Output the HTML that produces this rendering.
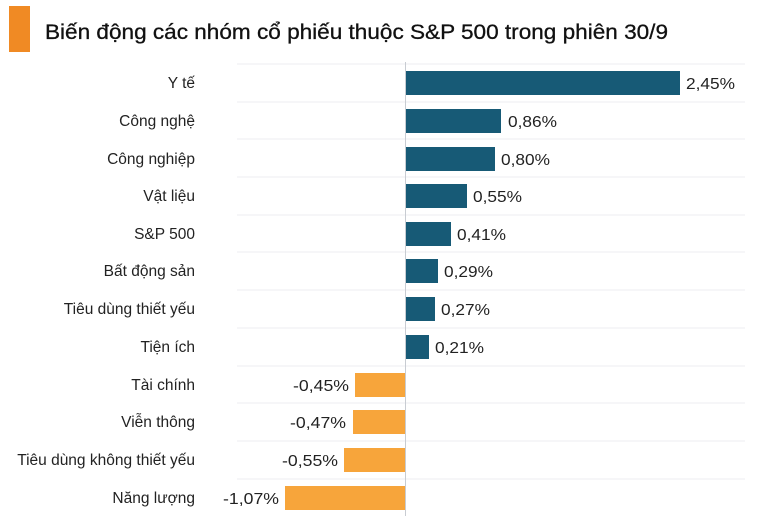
<!DOCTYPE html>
<html><head><meta charset="utf-8"><style>
body{margin:0;background:#fff;}
svg{display:block;font-family:"Liberation Sans","DejaVu Sans",sans-serif;}
</style></head><body>
<svg width="760" height="516" viewBox="0 0 760 516">
<rect x="9" y="6" width="21" height="46" fill="#f08a24"/>
<text x="45" y="39" font-size="21" fill="#111" stroke="#111" stroke-width="0.3" textLength="623" lengthAdjust="spacingAndGlyphs">Biến động các nhóm cổ phiếu thuộc S&amp;P 500 trong phiên 30/9</text>
<g stroke="#eceef0" stroke-width="1">
<line x1="237" x2="745" y1="64" y2="64"/><line x1="237" x2="745" y1="102" y2="102"/><line x1="237" x2="745" y1="139" y2="139"/><line x1="237" x2="745" y1="177" y2="177"/><line x1="237" x2="745" y1="215" y2="215"/><line x1="237" x2="745" y1="252" y2="252"/><line x1="237" x2="745" y1="290" y2="290"/><line x1="237" x2="745" y1="328" y2="328"/><line x1="237" x2="745" y1="366" y2="366"/><line x1="237" x2="745" y1="403" y2="403"/><line x1="237" x2="745" y1="441" y2="441"/><line x1="237" x2="745" y1="479" y2="479"/>
</g>
<g fill="#175a76">
<rect x="405" y="71" width="275" height="24"/>
<rect x="405" y="109" width="96" height="24"/>
<rect x="405" y="147" width="90" height="24"/>
<rect x="405" y="184" width="62" height="24"/>
<rect x="405" y="222" width="46" height="24"/>
<rect x="405" y="259" width="33" height="24"/>
<rect x="405" y="297" width="30" height="24"/>
<rect x="405" y="335" width="24" height="24"/>
</g>
<g fill="#f7a53b">
<rect x="355" y="373" width="50" height="24"/>
<rect x="353" y="410" width="52" height="24"/>
<rect x="344" y="448" width="61" height="24"/>
<rect x="285" y="486" width="120" height="24"/>
</g>
<line x1="405.5" x2="405.5" y1="62" y2="516" stroke="#c8ccd2" stroke-width="1"/>
<g font-size="15.5" fill="#222" text-anchor="end">
<text x="195" y="88">Y tế</text>
<text x="195" y="126">Công nghệ</text>
<text x="195" y="164">Công nghiệp</text>
<text x="195" y="201">Vật liệu</text>
<text x="195" y="239">S&amp;P 500</text>
<text x="195" y="276">Bất động sản</text>
<text x="195" y="314">Tiêu dùng thiết yếu</text>
<text x="195" y="352">Tiện ích</text>
<text x="195" y="390">Tài chính</text>
<text x="195" y="427">Viễn thông</text>
<text x="195" y="465">Tiêu dùng không thiết yếu</text>
<text x="195" y="503">Năng lượng</text>
</g>
<g font-size="16" fill="#222" lengthAdjust="spacingAndGlyphs">
<text x="686" y="89" textLength="49" lengthAdjust="spacingAndGlyphs">2,45%</text>
<text x="508" y="127" textLength="49" lengthAdjust="spacingAndGlyphs">0,86%</text>
<text x="501" y="165" textLength="49" lengthAdjust="spacingAndGlyphs">0,80%</text>
<text x="473" y="202" textLength="49" lengthAdjust="spacingAndGlyphs">0,55%</text>
<text x="457" y="240" textLength="49" lengthAdjust="spacingAndGlyphs">0,41%</text>
<text x="444" y="277" textLength="49" lengthAdjust="spacingAndGlyphs">0,29%</text>
<text x="441" y="315" textLength="49" lengthAdjust="spacingAndGlyphs">0,27%</text>
<text x="435" y="353" textLength="49" lengthAdjust="spacingAndGlyphs">0,21%</text>
<text x="293" y="391" textLength="56" lengthAdjust="spacingAndGlyphs">-0,45%</text>
<text x="290" y="428" textLength="56" lengthAdjust="spacingAndGlyphs">-0,47%</text>
<text x="282" y="466" textLength="56" lengthAdjust="spacingAndGlyphs">-0,55%</text>
<text x="223" y="504" textLength="56" lengthAdjust="spacingAndGlyphs">-1,07%</text>
</g>
</svg>
</body></html>
